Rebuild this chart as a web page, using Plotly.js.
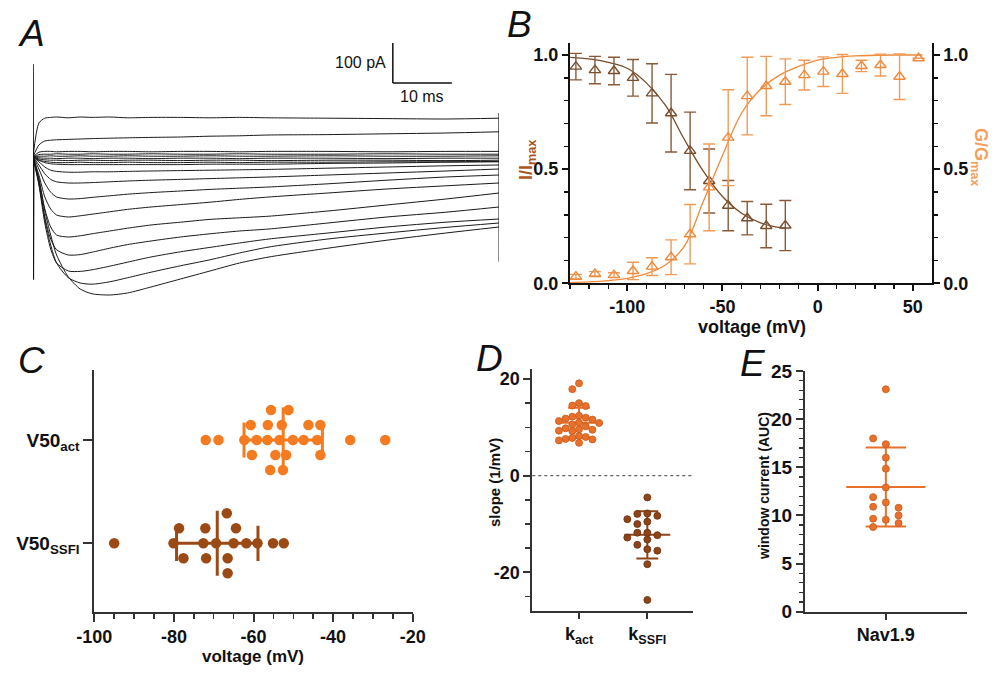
<!DOCTYPE html>
<html><head><meta charset="utf-8">
<script src="https://cdn.plot.ly/plotly-3.0.1.min.js"></script>
<style>html,body{margin:0;padding:0;background:#fff}#chart{width:1000px;height:675px}</style>
</head><body><div id="chart"></div>
<script>
// ---------------- DATA ----------------
// Panel A: current traces (time in ms, current in pA)
const tA = [0, 1, 2, 3, 4, 6, 8, 10, 13, 16, 20, 25, 30, 35, 40, 50, 60, 70, 79];
const iOut1 = [0, 85, 97, 99, 100, 98, 100, 99, 100, 98, 99, 99, 98, 99, 98, 97, 96, 95, 97];
const iOut2 = [0, 30, 40, 42, 43, 44, 45, 46, 47, 48, 49, 50, 52, 53, 55, 56, 58, 60, 63];
const iBase1 = [0, 12, 14, 14, 13, 14, 14, 13, 14, 14, 13, 14, 14, 13, 14, 14, 13, 14, 14];
const iBase2 = [0, 6, 7, 7, 8, 7, 7, 8, 7, 7, 8, 7, 7, 8, 7, 7, 8, 7, 7];
const iBase3 = [0, 2, 2, 3, 2, 2, 3, 2, 2, 3, 2, 2, 3, 2, 2, 3, 2, 2, 3];
const iBase4 = [0, -2, -3, -3, -4, -3, -3, -4, -3, -3, -4, -3, -3, -4, -3, -3, -4, -3, -3];
const iBase5 = [0, -5, -7, -8, -8, -9, -8, -8, -9, -8, -8, -9, -8, -8, -9, -8, -8, -9, -8];
const iBase6 = [0, -8, -11, -13, -14, -14, -13, -14, -14, -13, -14, -14, -13, -14, -13, -13, -12, -12, -11];
const iIn1 = [0, -8, -14, -17, -18, -19, -19, -19, -19, -19, -19, -19, -18, -18, -18, -16, -15, -13, -12];
const iIn2 = [0, -12, -25, -33, -36, -38, -38, -37, -37, -36, -35, -34, -33, -32, -31, -28, -25, -22, -20];
const iIn3 = [0, -20, -42, -56, -62, -65, -65, -64, -62, -60, -58, -56, -54, -52, -50, -45, -40, -35, -30];
const iIn4 = [0, -30, -65, -88, -100, -105, -104, -101, -97, -93, -89, -85, -81, -78, -75, -67, -58, -50, -45];
const iIn5 = [0, -45, -100, -130, -145, -150, -147, -143, -137, -131, -125, -119, -113, -106, -100, -90, -80, -72, -65];
const iIn6 = [0, -55, -130, -175, -195, -200, -197, -192, -185, -178, -170, -163, -156, -152, -148, -135, -120, -105, -90];
const iIn7 = [0, -65, -150, -205, -232, -245, -244, -238, -228, -219, -210, -200, -192, -185, -180, -165, -150, -138, -125];
const iIn8 = [0, -70, -165, -230, -265, -285, -286, -282, -273, -263, -250, -237, -226, -215, -205, -190, -175, -163, -155];
const iIn9 = [0, -65, -155, -220, -265, -302, -315, -318, -312, -302, -288, -272, -257, -240, -225, -205, -190, -176, -165];
const iIn10 = [0, -55, -135, -195, -245, -300, -330, -342, -345, -340, -325, -305, -285, -265, -250, -228, -208, -190, -175];
const tTransStart = [0, 0.05, 0.12];
const iTransStart = [232, -307, -10];
const tTransEnd = [79, 79.02, 79.04];
const iTransEnd = [0, 110, -262];

// Panel B: activation (G/Gmax) and steady-state fast inactivation (I/Imax)
const vAct = [-127, -117, -107, -97, -87, -77, -67, -57, -47, -37, -27, -17, -7, 3, 13, 23, 33, 43, 53];
const gAct = [0.029, 0.041, 0.036, 0.054, 0.073, 0.114, 0.215, 0.42, 0.638, 0.82, 0.864, 0.883, 0.912, 0.927, 0.917, 0.952, 0.956, 0.905, 0.986];
const gActErr = [0.01, 0.01, 0.01, 0.038, 0.039, 0.076, 0.13, 0.19, 0.21, 0.17, 0.13, 0.1, 0.065, 0.065, 0.085, 0.025, 0.048, 0.1, 0];
const vInact = [-127, -117, -107, -97, -87, -77, -67, -57, -47, -37, -27, -17];
const iInact = [0.949, 0.934, 0.93, 0.90, 0.832, 0.745, 0.58, 0.448, 0.34, 0.285, 0.251, 0.253];
const iInactErr = [0.058, 0.06, 0.06, 0.08, 0.13, 0.17, 0.17, 0.14, 0.11, 0.073, 0.095, 0.11];
const vFitAct = [-130, -120, -110, -100, -90, -80, -70, -60, -50, -40, -30, -20, -10, 0, 10, 20, 30, 40, 50, 55];
const gFitAct = [0.003, 0.006, 0.012, 0.022, 0.042, 0.08, 0.163, 0.36, 0.56, 0.745, 0.85, 0.912, 0.95, 0.978, 0.99, 0.996, 0.999, 1.0, 1.0, 1.0];
const vFitInact = [-130, -120, -110, -100, -90, -80, -70, -60, -50, -40, -30, -20, -17];
const iFitInact = [0.99, 0.983, 0.968, 0.942, 0.878, 0.78, 0.63, 0.49, 0.38, 0.307, 0.265, 0.244, 0.241];
const bVoltTicks = [-100, -50, 0, 50];
const bFracTicks = [0, 0.5, 1];

// Panel C: V50 values (mV)
const v50Act = [-72.0, -68.8, -62.3, -59.2, -56.5, -53.5, -50.1, -47.4, -44.0, -35.7, -26.9,
                -60.7, -56.4, -52.9, -46.2, -43.2, -60.4, -54.5, -51.8, -43.2, -55.6, -51.2, -55.8, -52.6];
const v50SSFI = [-95.0, -80.1, -72.6, -69.4, -65.0, -61.8, -59.0, -55.1, -52.4,
                 -78.7, -72.1, -64.4, -77.6, -71.9, -66.5, -66.7, -66.5];
const cLabels = ['V50<sub>SSFI</sub>', 'V50<sub>act</sub>'];
const cVoltTicks = [-100, -80, -60, -40, -20];

// Panel D: slopes (1/mV)
const kAct = [19.1, 17.9, 15.0, 14.5, 14.4, 12.4, 12.2, 12.0, 11.8, 11.6, 11.3, 11.0, 10.9, 10.6, 10.2, 9.8, 9.6, 9.5, 9.3, 9.2, 8.2, 8.0, 7.8, 7.6, 7.5, 7.3, 6.8];
const kSSFI = [-4.5, -7.8, -7.9, -8.3, -9.0, -9.5, -10.0, -11.8, -11.8, -12.3, -12.8, -13.2, -14.3, -15.2, -15.5, -18.3, -25.7];
const dLabels = ['k<sub>act</sub>', 'k<sub>SSFI</sub>'];
const dSlopeTicks = [-20, 0, 20];

// Panel E: window current (AUC)
const auc = [23.1, 17.4, 16.0, 14.85, 12.9, 11.35, 9.55, 18.0, 11.9, 10.9, 9.66, 8.8, 10.8, 10.0, 9.2];
const eLabels = ['Nav1.9'];

// ---------------- HELPERS ----------------
const F = '"Liberation Sans", Arial, Helvetica, sans-serif';
const W = 1000, H = 675;
const px = x => x / W, py = y => 1 - y / H;
const hy = v => String(v);               // plain hyphen-minus labels, as in the figure
const f1 = v => v.toFixed(1);

function swarm(vals, T, order) {
  const placed = [];
  return vals.map(v => {
    for (const k of order) {
      if (!placed.some(p => p.k === k && Math.abs(p.v - v) < T)) { placed.push({v, k}); return k; }
    }
    const k = order[order.length - 1]; placed.push({v, k}); return k;
  });
}
function stats(a) {
  const m = a.reduce((s, v) => s + v, 0) / a.length;
  const sd = Math.sqrt(a.reduce((s, v) => s + (v - m) * (v - m), 0) / (a.length - 1));
  return {m, sd};
}

const traces = [];

// ---- Panel A ----
[iOut1, iOut2, iBase1, iBase2, iBase3, iBase4, iBase5, iBase6, iIn1, iIn2, iIn3, iIn4, iIn5, iIn6, iIn7, iIn8, iIn9, iIn10]
  .forEach(arr => traces.push({x: tA, y: arr, xaxis: 'x', yaxis: 'y', mode: 'lines',
    line: {color: '#1a1a1a', width: 1, shape: 'spline', smoothing: 0.7}, hoverinfo: 'skip'}));
traces.push({x: tTransStart, y: iTransStart, xaxis: 'x', yaxis: 'y', mode: 'lines', line: {color: '#111', width: 1.6}, hoverinfo: 'skip'});
traces.push({x: tTransEnd, y: iTransEnd, xaxis: 'x', yaxis: 'y', mode: 'lines', line: {color: '#111', width: 1.4}, hoverinfo: 'skip'});

// ---- Panel B ----
const bOrange = '#f0893a', bBrown = '#7a4e2e';
traces.push({x: vFitInact, y: iFitInact, xaxis: 'x2', yaxis: 'y2', mode: 'lines', line: {color: '#7a4a28', width: 1.3, shape: 'spline'}, cliponaxis: false});
traces.push({x: vFitAct, y: gFitAct, xaxis: 'x2', yaxis: 'y3', mode: 'lines', line: {color: bOrange, width: 1.3, shape: 'spline'}, cliponaxis: false});
traces.push({x: vInact, y: iInact, xaxis: 'x2', yaxis: 'y2', mode: 'markers', cliponaxis: false,
  marker: {symbol: 'triangle-up-open', size: 10, color: bBrown, line: {width: 1.4, color: bBrown}},
  error_y: {type: 'data', array: iInactErr, visible: true, color: '#8a5a38', thickness: 1.4, width: 6}});
traces.push({x: vAct, y: gAct, xaxis: 'x2', yaxis: 'y3', mode: 'markers', cliponaxis: false,
  marker: {symbol: 'triangle-up-open', size: 10, color: bOrange, line: {width: 1.4, color: bOrange}},
  error_y: {type: 'data', array: gActErr, visible: true, color: '#f29a55', thickness: 1.4, width: 6}});

// ---- Panel C (horizontal scatter) ----
const cOrange = '#f47b20', cBrown = '#9b4a16';
const cRow = 15 / 103.3;
[[v50SSFI, 0, cBrown], [v50Act, 1, cOrange]].forEach(([vals, c, col]) => {
  const st = stats(vals);
  const ms = 0.315, cap = 0.17;
  traces.push({xaxis: 'x4', yaxis: 'y4', mode: 'lines', line: {color: col, width: 3}, hoverinfo: 'skip',
    x: [st.m, st.m, null, st.m - st.sd, st.m + st.sd, null, st.m - st.sd, st.m - st.sd, null, st.m + st.sd, st.m + st.sd],
    y: [c - ms, c + ms, null, c, c, null, c - cap, c + cap, null, c - cap, c + cap]});
  const off = swarm(vals, 2.6, [0, 1, -1, 2, -2, 3, -3]);
  traces.push({xaxis: 'x4', yaxis: 'y4', mode: 'markers', x: vals, y: off.map(k => c + k * cRow),
    marker: {size: 10.5, color: col, line: {width: 0}}, cliponaxis: false});
});

// ---- Panel D (vertical scatter) ----
const dOrange = '#e8702a', dOrangeL = '#c65a1c', dBrown = '#8e4419', dBrownL = '#6b300e';
[[kAct, 0, dOrange, dOrangeL, 6.7], [kSSFI, 1, dBrown, dBrownL, 10]].forEach(([vals, c, col, lc, sp]) => {
  const st = stats(vals);
  const ms = 0.336, cap = 0.16;
  traces.push({xaxis: 'x5', yaxis: 'y5', mode: 'lines', line: {color: col, width: 2}, hoverinfo: 'skip',
    x: [c - ms, c + ms, null, c, c, null, c - cap, c + cap, null, c - cap, c + cap],
    y: [st.m, st.m, null, st.m - st.sd, st.m + st.sd, null, st.m + st.sd, st.m + st.sd, null, st.m - st.sd, st.m - st.sd]});
  const off = swarm(vals, 1.3, [0, -1, 1, -2, 2, -3, 3]);
  traces.push({xaxis: 'x5', yaxis: 'y5', mode: 'markers', y: vals, x: off.map(k => c + k * sp / 68.3),
    marker: {size: 7, color: col, line: {width: 0.8, color: lc}}, cliponaxis: false});
});

// ---- Panel E ----
{
  const st = stats(auc);
  const ms = 0.49, cap = 0.25, c = 0;
  traces.push({xaxis: 'x6', yaxis: 'y6', mode: 'lines', line: {color: dOrange, width: 2}, hoverinfo: 'skip',
    x: [c - ms, c + ms, null, c, c, null, c - cap, c + cap, null, c - cap, c + cap],
    y: [st.m, st.m, null, st.m - st.sd, st.m + st.sd, null, st.m + st.sd, st.m + st.sd, null, st.m - st.sd, st.m - st.sd]});
  const off = swarm(auc, 0.78, [0, -1, 1]);
  traces.push({xaxis: 'x6', yaxis: 'y6', mode: 'markers', y: auc, x: off.map(k => c + k * 12.7 / 80.8),
    marker: {size: 7, color: dOrange, line: {width: 0.8, color: dOrangeL}}, cliponaxis: false});
}

// ---------------- LAYOUT ----------------
function ax(extra, col) {
  col = col || '#333';
  return Object.assign({
    showline: true, linecolor: col, linewidth: 2, ticks: 'outside', tickcolor: col, tickwidth: 2, ticklen: 8,
    showgrid: false, zeroline: false, fixedrange: true,
    tickfont: {family: F, size: 18, color: '#111', weight: 700}
  }, extra);
}
const minorB = {ticks: 'outside', ticklen: 4, tickwidth: 1.5, tickcolor: '#111'};

const layout = {
  width: W, height: H, autosize: false, showlegend: false,
  margin: {l: 0, r: 0, t: 0, b: 0, pad: 0},
  paper_bgcolor: '#fff', plot_bgcolor: 'rgba(0,0,0,0)',
  font: {family: F, color: '#111'},
  // A
  xaxis: {domain: [px(33), px(499)], range: [0, 79], visible: false, anchor: 'y', fixedrange: true},
  yaxis: {domain: [py(300), py(40)], range: [-357.5, 292.5], visible: false, anchor: 'x', fixedrange: true},
  // B
  xaxis2: ax({domain: [px(570), px(931.7)], range: [-130.1, 59.9], anchor: 'y2', tickvals: bVoltTicks, ticktext: bVoltTicks.map(hy), ticklen: 6,
    minor: Object.assign({dtick: 10, tick0: 0}, minorB)}, '#111'),
  yaxis2: ax({domain: [py(283.3), py(43)], range: [0, 1.0526], anchor: 'x2', tickvals: bFracTicks, ticktext: bFracTicks.map(f1), ticklen: 6,
    minor: Object.assign({dtick: 0.1, tick0: 0}, minorB)}, '#111'),
  yaxis3: ax({overlaying: 'y2', side: 'right', anchor: 'x2', range: [0, 1.0526], tickvals: bFracTicks, ticktext: bFracTicks.map(f1), ticklen: 6,
    minor: Object.assign({dtick: 0.1, tick0: 0}, minorB)}, '#111'),
  // C
  xaxis4: ax({domain: [px(94.3), px(412.7)], range: [-100, -20], anchor: 'y4', tickvals: cVoltTicks, ticktext: cVoltTicks.map(hy),
    minor: {dtick: 5, tick0: 0, ticks: 'outside', ticklen: 5, tickwidth: 1.5, tickcolor: '#333'}}),
  yaxis4: ax({domain: [py(611.7), py(370)], range: [-0.662, 1.678], anchor: 'x4', tickvals: [0, 1], ticktext: cLabels, ticklen: 9,
    tickfont: {family: F, size: 19, color: '#111', weight: 700}}),
  // D
  xaxis5: ax({domain: [px(532.3), px(693.3)], range: [-0.684, 1.673], anchor: 'y5', tickvals: [0, 1], ticktext: dLabels, ticklen: 6}),
  yaxis5: ax({domain: [py(610.7), py(369.3)], range: [-27.92, 22.0], anchor: 'x5', tickvals: dSlopeTicks, ticktext: dSlopeTicks.map(hy), ticklen: 7,
    minor: {dtick: 5, tick0: 0, ticks: 'outside', ticklen: 5, tickwidth: 1.5, tickcolor: '#333'}}),
  // E
  xaxis6: ax({domain: [px(805), px(966.7)], range: [-1, 1], anchor: 'y6', tickvals: [0], ticktext: eLabels, ticklen: 6}),
  yaxis6: ax({domain: [py(611.7), py(371)], range: [0, 25], anchor: 'x6', dtick: 5, tick0: 0, ticklen: 7,
    tickfont: {family: F, size: 19, color: '#111', weight: 700},
    minor: {dtick: 1, tick0: 0, ticks: 'outside', ticklen: 4, tickwidth: 1.2, tickcolor: '#333'}}),
  shapes: [
    // scale bar (100 pA, 10 ms)
    {type: 'line', xref: 'x', yref: 'y', x0: 61, x1: 61, y0: 185, y1: 285, line: {color: '#111', width: 1.5}},
    {type: 'line', xref: 'x', yref: 'y', x0: 61, x1: 71, y0: 185, y1: 185, line: {color: '#111', width: 1.5}},
    // dotted zero line in D
    {type: 'line', xref: 'x5 domain', yref: 'y5', x0: 0, x1: 1, y0: 0, y1: 0, line: {color: '#666', width: 1.2, dash: 'dot'}}
  ],
  annotations: []
};

const A = layout.annotations;
const letter = (t, x, y) => A.push({text: t, xref: 'paper', yref: 'paper', x: px(x), y: py(y), xanchor: 'center', yanchor: 'middle',
  showarrow: false, font: {family: F, size: 37, color: '#111', style: 'italic'}});
letter('A', 31, 33.5); letter('B', 519, 25); letter('C', 31, 360.5); letter('D', 489, 358.5); letter('E', 753, 363);

const title = (t, x, y, size, color, angle) => A.push({text: t, xref: 'paper', yref: 'paper', x: px(x), y: py(y),
  xanchor: 'center', yanchor: 'middle', showarrow: false, textangle: angle || 0,
  font: {family: F, size: size, color: color, weight: 700}});
title('voltage (mV)', 752, 327, 18, '#111');
title('I/I<sub>max</sub>', 527, 160, 18, '#a9571f', -90);
title('G/G<sub>max</sub>', 980, 157, 18, '#f4a05c', 90);
title('voltage (mV)', 252.5, 656, 17, '#111');
title('slope (1/mV)', 495, 483, 15, '#111', -90);
title('window current (AUC)', 764, 486, 14, '#111', -90);

A.push({text: '100 pA', xref: 'x', yref: 'y', x: 61, y: 235, xanchor: 'right', yanchor: 'middle', xshift: -5, showarrow: false,
  font: {family: F, size: 16, color: '#111'}});
A.push({text: '10 ms', xref: 'x', yref: 'y', x: 66, y: 185, xanchor: 'center', yanchor: 'top', yshift: -3, showarrow: false,
  font: {family: F, size: 16, color: '#111'}});

Plotly.newPlot('chart', traces, layout, {staticPlot: true, displayModeBar: false});
</script></body></html>
